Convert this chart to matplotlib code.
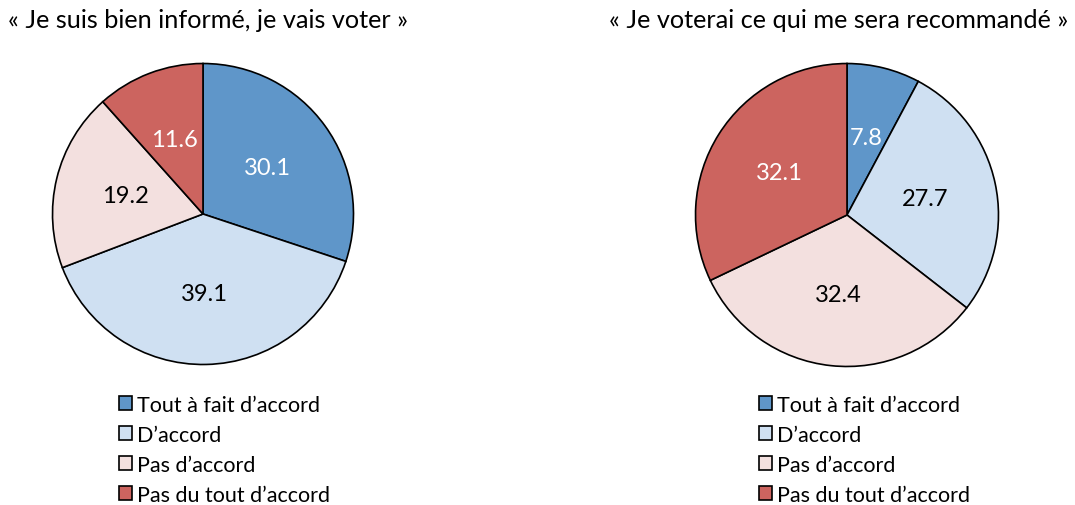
import matplotlib
matplotlib.use("Agg")
import matplotlib.pyplot as plt
from matplotlib.patches import Patch

plt.rcParams['font.family'] = ['Lato', 'DejaVu Sans']

# categories and survey results (%)
categories = ["Tout à fait d’accord", "D’accord", "Pas d’accord", "Pas du tout d’accord"]
informe = [30.1, 39.1, 19.2, 11.6]
recommande = [7.8, 27.7, 32.4, 32.1]
titles = ["« Je suis bien informé, je vais voter »", "« Je voterai ce qui me sera recommandé »"]

colors = ['#5F96C9', '#CFE0F2', '#F3E0DF', '#CC645F']
text_colors = ['white', 'black', 'black', 'white']

W, H = 1075, 506
fig = plt.figure(figsize=(W / 100, H / 100), dpi=100)

def draw_pie(cx, cy, r, values, title, title_x, title_ha, leg_x):
    ax = fig.add_axes([(cx - r) / W, (H - cy - r) / H, 2 * r / W, 2 * r / H])
    wedges, texts = ax.pie(values, colors=colors, startangle=90, counterclock=False,
                           radius=1, labels=[f"{v:.1f}" for v in values],
                           labeldistance=0.53,
                           wedgeprops=dict(edgecolor='black', linewidth=1.2))
    for t, c in zip(texts, text_colors):
        t.set_ha('center')
        t.set_va('center')
        t.set_color(c)
        t.set_fontsize(17)
    ax.set_xlim(-1.01, 1.01)
    ax.set_ylim(-1.01, 1.01)
    ax.set_aspect('equal')
    ax.axis('off')
    fig.text(title_x / W, 1 - 20 / H, title, ha=title_ha, va='center', fontsize=18.2)
    handles = [Patch(facecolor=c, edgecolor='black', linewidth=1.2) for c in colors]
    fig.legend(handles, categories, loc='upper left',
               bbox_to_anchor=(leg_x / W, 1 - 396 / H), frameon=False,
               fontsize=15.5, handlelength=0.62, handleheight=0.62,
               handletextpad=0.2, labelspacing=0.46, borderpad=0, borderaxespad=0)

draw_pie(203, 215, 152, informe, titles[0], 8, 'left', 119)
draw_pie(847, 216, 153, recommande, titles[1], 1068, 'right', 759)

fig.savefig('out.png', dpi=100)
